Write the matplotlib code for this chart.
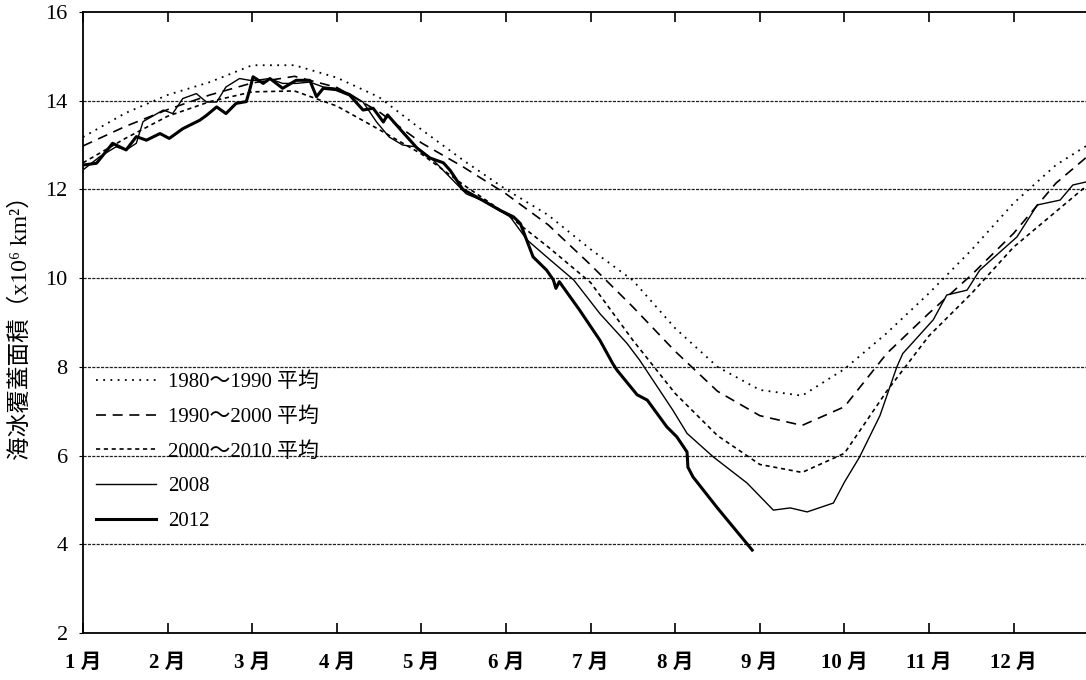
import matplotlib
matplotlib.use("Agg")
import matplotlib.pyplot as plt

plt.rcParams['font.family'] = ['Liberation Serif', 'Noto Sans CJK TC']

# month axis: 0 = 1月1日, 1 = 2月1日 ...
month_labels = ['1 月', '2 月', '3 月', '4 月', '5 月', '6 月', '7 月', '8 月', '9 月', '10 月', '11 月', '12 月']
y_ticks = [2, 4, 6, 8, 10, 12, 14, 16]

# climatological means, read every half month
avg_months = [0.0, 0.5, 1.0, 1.5, 2.0, 2.5, 3.0, 3.5, 4.0, 4.5, 5.0, 5.5, 6.0,
              6.5, 7.0, 7.5, 8.0, 8.5, 9.0, 9.5, 10.0, 10.5, 11.0, 11.5, 12.0]
avg_1980_1990 = [13.18, 13.72, 14.13, 14.42, 14.8, 14.8, 14.52, 14.08, 13.35, 12.65, 12.0, 11.42, 10.65,
                 9.95, 8.87, 8.0, 7.48, 7.35, 7.95, 8.76, 9.66, 10.63, 11.69, 12.55, 13.15]
avg_1990_2000 = [12.98, 13.42, 13.8, 14.13, 14.4, 14.55, 14.3, 13.75, 13.05, 12.5, 11.9, 11.2, 10.3,
                 9.35, 8.35, 7.45, 6.9, 6.68, 7.1, 8.3, 9.21, 10.07, 11.01, 12.14, 12.95]
avg_2000_2010 = [12.6, 13.15, 13.65, 13.98, 14.2, 14.22, 13.88, 13.35, 12.8, 12.1, 11.45, 10.7, 9.9,
                 8.6, 7.4, 6.45, 5.8, 5.62, 6.05, 7.45, 8.7, 9.65, 10.7, 11.5, 12.3]

months_2008 = [0.0, 0.2, 0.39, 0.51, 0.63, 0.71, 0.95, 1.06, 1.18, 1.34, 1.46, 1.58, 1.69, 1.85,
               1.97, 2.05, 2.2, 2.36, 2.52, 2.68, 2.84, 2.99, 3.15, 3.31, 3.47, 3.62, 3.78, 3.94,
               4.14, 4.53, 4.72, 5.05, 5.25, 5.48, 5.8, 6.11, 6.43, 6.58, 6.97, 7.14, 7.45, 7.85,
               8.16, 8.36, 8.56, 8.87, 9.0, 9.18, 9.42, 9.62, 9.69, 10.05, 10.21, 10.45, 10.6,
               10.84, 11.04, 11.28, 11.55, 11.7, 11.86, 12.0]
ice_2008 = [12.44, 12.74, 12.96, 12.89, 13.04, 13.53, 13.79, 13.71, 14.05, 14.16, 13.97, 13.97,
            14.31, 14.5, 14.46, 14.46, 14.5, 14.39, 14.39, 14.42, 14.31, 14.28, 14.16, 13.97, 13.52,
            13.18, 13.0, 12.96, 12.66, 11.9, 11.75, 11.38, 10.86, 10.48, 9.96, 9.2, 8.53, 8.15,
            7.03, 6.5, 5.97, 5.38, 4.77, 4.82, 4.73, 4.93, 5.4, 5.97, 6.9, 8.0, 8.3, 9.06, 9.62,
            9.73, 10.18, 10.59, 10.93, 11.65, 11.76, 12.1, 12.17, 12.25]

months_2012 = [0.0, 0.16, 0.35, 0.51, 0.63, 0.75, 0.91, 1.02, 1.18, 1.38, 1.46, 1.58, 1.69, 1.81,
               1.93, 1.97, 2.01, 2.13, 2.21, 2.36, 2.52, 2.68, 2.76, 2.84, 2.99, 3.15, 3.31, 3.43,
               3.55, 3.6, 3.78, 3.95, 4.1, 4.26, 4.34, 4.49, 4.69, 4.93, 5.09, 5.17, 5.32, 5.48,
               5.56, 5.59, 5.63, 5.87, 6.11, 6.26, 6.31, 6.55, 6.67, 6.9, 7.02, 7.14, 7.15, 7.21,
               7.49, 7.91]
ice_2012 = [12.55, 12.59, 13.04, 12.89, 13.19, 13.11, 13.26, 13.15, 13.37, 13.56, 13.67, 13.86,
            13.71, 13.94, 13.98, 14.24, 14.54, 14.39, 14.5, 14.28, 14.46, 14.46, 14.09, 14.28,
            14.25, 14.13, 13.79, 13.83, 13.52, 13.68, 13.29, 12.93, 12.71, 12.6, 12.43, 12.0,
            11.79, 11.53, 11.38, 11.23, 10.48, 10.18, 9.96, 9.77, 9.92, 9.28, 8.6, 8.08, 7.93,
            7.37, 7.25, 6.65, 6.42, 6.08, 5.74, 5.52, 4.84, 3.87]

fig = plt.figure(figsize=(10.86, 6.8), dpi=100)
ax = fig.add_axes([83/1086, 47/680, 1003/1086, 621/680])

for yv in y_ticks[1:-1]:
    ax.axhline(yv, color='#222222', lw=0.9, ls=(0, (2.5, 1)), zorder=1)

ax.plot(avg_months, avg_1980_1990, color='k', lw=1.3, ls=(0, (1, 3)), label='1980～1990 平均')
ax.plot(avg_months, avg_1990_2000, color='k', lw=1.2, ls=(0, (6, 4)), label='1990～2000 平均')
ax.plot(avg_months, avg_2000_2010, color='k', lw=1.2, ls=(0, (2.5, 2.2)), label='2000～2010 平均')
ax.plot(months_2008, ice_2008, color='k', lw=1.0, label='2008')
ax.plot(months_2012, ice_2012, color='k', lw=2.2, label='2012')

ax.set_xlim(0, 1003/84.6)
ax.set_ylim(2, 16)
ax.set_xticks(range(12))
ax.set_xticklabels(month_labels, fontsize=15, fontweight='bold')
ax.set_yticks(y_ticks)
ax.set_yticklabels([str(v) for v in y_ticks], fontsize=16)
ax.tick_params(axis='x', direction='in', length=7, width=1.2, pad=14, top=True)
ax.tick_params(axis='y', direction='out', length=3, pad=8)
ax.spines['right'].set_visible(False)
for s in ['left', 'bottom', 'top']:
    ax.spines[s].set_linewidth(1.3)

ax.set_ylabel('海冰覆蓋面積（x10⁶ km²）', fontsize=17, labelpad=10)

leg = ax.legend(loc='upper left', bbox_to_anchor=(0.0, 0.44), frameon=False, fontsize=15,
                handlelength=2.9, handletextpad=0.6, labelspacing=0.72, borderaxespad=0.2)

fig.savefig('out.png', dpi=100)
